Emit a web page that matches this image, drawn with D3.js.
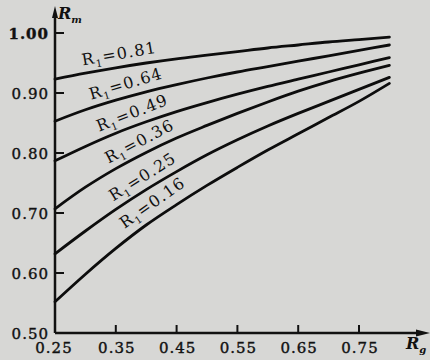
<!DOCTYPE html>
<html>
<head>
<meta charset="utf-8">
<script src="https://cdn.jsdelivr.net/npm/d3@7"></script>
<style>
  body { margin: 0; background: #d7d7d5; }
  svg { display: block; }
  text { font-family: "DejaVu Serif", "Liberation Serif", serif; fill: #111; }
</style>
</head>
<body>
<svg id="chart" width="430" height="360"></svg>
<script>
// Rg sample points
const rg = [0.25, 0.30, 0.35, 0.40, 0.45, 0.50, 0.55, 0.60, 0.65, 0.70, 0.75, 0.80];

// R1 of each curve and the Rm values along it
const r1 = [0.81, 0.64, 0.49, 0.36, 0.25, 0.16];
const rm81 = [0.923, 0.933, 0.942, 0.950, 0.957, 0.963, 0.969, 0.975, 0.980, 0.985, 0.989, 0.993];
const rm64 = [0.853, 0.872, 0.888, 0.902, 0.914, 0.925, 0.935, 0.944, 0.953, 0.962, 0.971, 0.980];
const rm49 = [0.787, 0.811, 0.833, 0.852, 0.869, 0.884, 0.898, 0.911, 0.923, 0.935, 0.947, 0.959];
const rm36 = [0.707, 0.743, 0.774, 0.801, 0.825, 0.846, 0.866, 0.885, 0.903, 0.919, 0.933, 0.946];
const rm25 = [0.632, 0.670, 0.706, 0.739, 0.769, 0.797, 0.822, 0.845, 0.866, 0.886, 0.906, 0.926];
const rm16 = [0.552, 0.598, 0.641, 0.680, 0.714, 0.746, 0.776, 0.805, 0.832, 0.859, 0.886, 0.916];
const series = [rm81, rm64, rm49, rm36, rm25, rm16];

// where along Rg each curve label starts
const labelAt = [0.298, 0.313, 0.327, 0.344, 0.353, 0.374];

const xTicks = [0.25, 0.35, 0.45, 0.55, 0.65, 0.75];
const yTicks = [0.5, 0.6, 0.7, 0.8, 0.9, 1.0];

const svg = d3.select("#chart");
const x = d3.scaleLinear().domain([0.25, 0.75]).range([55, 359]);
const y = d3.scaleLinear().domain([0.5, 1.0]).range([333, 33]);

// axes
const axisColor = "#111";
svg.append("line")
  .attr("x1", x(0.25)).attr("x2", 422)
  .attr("y1", y(0.5)).attr("y2", y(0.5))
  .attr("stroke", axisColor).attr("stroke-width", 2.5);
svg.append("path")
  .attr("d", `M430,${y(0.5)} L416,${y(0.5) - 3.5} L416,${y(0.5) + 3.5} Z`)
  .attr("fill", axisColor);
svg.append("line")
  .attr("x1", x(0.25)).attr("x2", x(0.25))
  .attr("y1", y(0.5)).attr("y2", 14)
  .attr("stroke", axisColor).attr("stroke-width", 2.5);
svg.append("path")
  .attr("d", `M${x(0.25)},6 L${x(0.25) - 3},18 L${x(0.25) + 3},18 Z`)
  .attr("fill", axisColor);

// x ticks
svg.append("g").selectAll("line")
  .data(xTicks.slice(1))
  .join("line")
  .attr("x1", d => x(d)).attr("x2", d => x(d))
  .attr("y1", y(0.5)).attr("y2", y(0.5) - 8)
  .attr("stroke", axisColor).attr("stroke-width", 2);
svg.append("g").selectAll("text")
  .data(xTicks)
  .join("text")
  .attr("x", d => x(d) + (d === 0.25 ? -1 : 1))
  .attr("y", 353)
  .attr("text-anchor", "middle")
  .attr("font-size", 15)
  .attr("letter-spacing", 1)
  .attr("stroke", "#111").attr("stroke-width", 0.4)
  .text(d => d.toFixed(2));

// y ticks
svg.append("g").selectAll("line")
  .data(yTicks.slice(1))
  .join("line")
  .attr("x1", x(0.25)).attr("x2", x(0.25) + 9)
  .attr("y1", d => y(d)).attr("y2", d => y(d))
  .attr("stroke", axisColor).attr("stroke-width", 2);
svg.append("g").selectAll("text")
  .data(yTicks)
  .join("text")
  .attr("x", 49)
  .attr("y", d => y(d) + 6)
  .attr("text-anchor", "end")
  .attr("font-size", 15)
  .attr("letter-spacing", 1)
  .attr("stroke", "#111").attr("stroke-width", 0.4)
  .attr("font-weight", d => d === 1 ? "bold" : null)
  .text(d => d.toFixed(2));

// axis titles
const ty = svg.append("text").attr("x", 58).attr("y", 19)
  .attr("font-size", 16).attr("font-style", "italic").attr("font-weight", "bold");
ty.append("tspan").text("R");
ty.append("tspan").attr("dy", 4).attr("font-size", 10).text("m");
const tx = svg.append("text").attr("x", 406).attr("y", 349)
  .attr("font-size", 16).attr("font-style", "italic").attr("font-weight", "bold");
tx.append("tspan").text("R");
tx.append("tspan").attr("dy", 4).attr("font-size", 10).text("g");

// curves
const line = d3.line()
  .x((d, i) => x(rg[i]))
  .y(d => y(d))
  .curve(d3.curveMonotoneX);
svg.append("g").selectAll("path")
  .data(series)
  .join("path")
  .attr("d", d => line(d))
  .attr("fill", "none")
  .attr("stroke", "#0d0d0d")
  .attr("stroke-width", 2.8)
  .attr("stroke-linecap", "round");

// curve labels, laid along each curve
function valueAt(s, v) {
  return d3.scaleLinear().domain(rg).range(s)(v);
}
series.forEach((s, k) => {
  const a = labelAt[k];
  const b = a + 0.07;
  const px0 = x(a), py0 = y(valueAt(s, a));
  const px1 = x(b), py1 = y(valueAt(s, b));
  const ang = Math.atan2(py1 - py0, px1 - px0) * 180 / Math.PI;
  const t = svg.append("text")
    .attr("transform", `translate(${px0},${py0}) rotate(${ang})`)
    .attr("y", k === 5 ? -10 : -8)
    .attr("font-size", 16)
    .attr("letter-spacing", 1.2);
  t.append("tspan").text("R");
  t.append("tspan").attr("dy", 4).attr("font-size", 10).text("1");
  t.append("tspan").attr("dy", -4).text("=" + r1[k].toFixed(2));
});
</script>
</body>
</html>
